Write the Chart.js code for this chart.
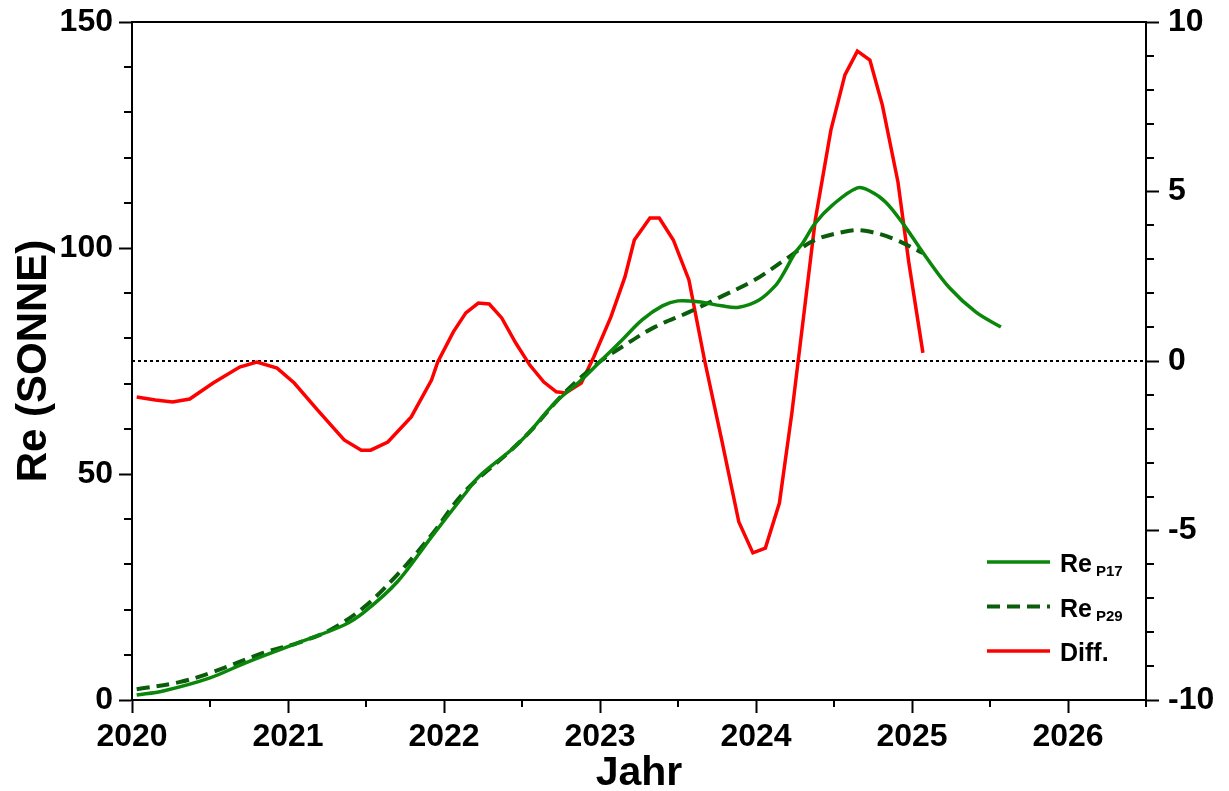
<!DOCTYPE html>
<html>
<head>
<meta charset="utf-8">
<title>Re (SONNE)</title>
<script src="https://cdn.jsdelivr.net/npm/chart.js@4.4.1/dist/chart.umd.min.js"></script>
<style>
  html, body { margin: 0; padding: 0; background: #fff; }
  #wrap { width: 1229px; height: 791px; position: relative; }
</style>
</head>
<body>
<div id="wrap"><canvas id="reChart"></canvas></div>
<script>
/* Re (SONNE) – Re_P17, Re_P29 and their difference */

// Re_P17 (left axis)
const p17Years = [2020.03, 2020.20, 2020.50, 2020.74, 2021.06, 2021.36, 2021.49, 2021.70, 2021.92, 2022.13,
  2022.22, 2022.43, 2022.54, 2022.71, 2022.88, 2023.01, 2023.14, 2023.27, 2023.40, 2023.50,
  2023.63, 2023.78, 2023.89, 2024.02, 2024.12, 2024.17, 2024.25, 2024.30, 2024.38, 2024.49,
  2024.65, 2024.73, 2024.83, 2024.94, 2025.09, 2025.24, 2025.41, 2025.57];
const p17Values = [1.1, 2.0, 4.9, 8.4, 12.6, 16.6, 19.5, 26.1, 36.1, 45.4,
  49.3, 55.3, 59.0, 65.7, 70.8, 75.2, 79.6, 84.1, 87.2, 88.3,
  88.1, 87.2, 86.9, 88.5, 91.5, 94.0, 98.9, 101.1, 105.5, 109.5,
  113.3, 112.6, 110.2, 105.5, 98.0, 91.2, 85.8, 82.5];

// Re_P29 (left axis)
const p29Years = [2020.03, 2020.31, 2020.52, 2020.84, 2021.06, 2021.27, 2021.49, 2021.70, 2021.92, 2022.13,
  2022.43, 2022.56, 2022.77, 2022.99, 2023.14, 2023.35, 2023.57, 2023.78, 2023.99, 2024.21,
  2024.38, 2024.60, 2024.70, 2024.87, 2025.07];
const p29Values = [2.4, 4.0, 6.2, 10.4, 12.6, 15.5, 20.6, 27.7, 36.5, 46.0,
  55.3, 59.7, 67.9, 74.6, 78.1, 82.5, 85.8, 89.3, 92.9, 98.0,
  101.8, 103.8, 103.8, 102.2, 98.9];

// Diff. (right axis)
const diffYears = [2020.03, 2020.15, 2020.26, 2020.37, 2020.52, 2020.69, 2020.80, 2020.93, 2021.04, 2021.19,
  2021.36, 2021.47, 2021.53, 2021.64, 2021.79, 2021.92, 2021.96, 2022.06, 2022.14, 2022.22,
  2022.29, 2022.37, 2022.46, 2022.55, 2022.64, 2022.72, 2022.78, 2022.88, 2022.96, 2023.07,
  2023.16, 2023.22, 2023.32, 2023.38, 2023.47, 2023.57, 2023.67, 2023.78, 2023.89, 2023.98,
  2024.06, 2024.15, 2024.23, 2024.31, 2024.38, 2024.48, 2024.57, 2024.65, 2024.73, 2024.81,
  2024.91, 2024.98, 2025.07];
const diffValues = [-1.06, -1.15, -1.21, -1.12, -0.65, -0.18, -0.03, -0.21, -0.65, -1.45,
  -2.33, -2.63, -2.63, -2.39, -1.65, -0.56, -0.03, 0.86, 1.42, 1.71,
  1.68, 1.27, 0.53, -0.12, -0.62, -0.91, -0.94, -0.65, 0.12, 1.30,
  2.48, 3.57, 4.22, 4.22, 3.57, 2.39, 0.03, -2.33, -4.75, -5.66,
  -5.52, -4.19, -1.53, 1.50, 4.16, 6.81, 8.44, 9.14, 8.88, 7.55,
  5.28, 2.89, 0.24];

// zero reference line (right axis)
const zeroYears = [2020, 2026.5];
const zeroValues = [0, 0];

// legend text
const legendMain = ['Re', 'Re', 'Diff.'];
const legendSub = ['P17', 'P29', ''];

const FONT = '"Liberation Sans", Arial, sans-serif';
const pts = (xs, ys) => xs.map((x, i) => ({ x: x, y: ys[i] }));

// fixed axis sizes so the plot box sits where the original one does
const fixV = w => s => { s.width = w; s.paddingTop = 0; s.paddingBottom = 0; };

// minor ticks, plot frame top and the legend with subscripts
const decorPlugin = {
  id: 'decor',
  afterDraw(chart) {
    const ctx = chart.ctx;
    const area = chart.chartArea;
    const xs = chart.scales.x, yl = chart.scales.y, yr = chart.scales.y2;
    ctx.save();
    ctx.strokeStyle = '#000';
    ctx.lineWidth = 2;
    ctx.beginPath();
    ctx.moveTo(area.left, area.top);
    ctx.lineTo(area.right, area.top);
    for (let v = 2020.5; v < 2026.6; v += 1) {
      const px = Math.round(xs.getPixelForValue(v));
      ctx.moveTo(px, area.bottom);
      ctx.lineTo(px, area.bottom + 7);
    }
    for (let v = 10; v < 150; v += 10) {
      if (v % 50 === 0) continue;
      const py = Math.round(yl.getPixelForValue(v));
      ctx.moveTo(area.left - 8, py);
      ctx.lineTo(area.left, py);
    }
    for (let v = -9; v < 10; v += 1) {
      if (v % 5 === 0) continue;
      const py = Math.round(yr.getPixelForValue(v));
      ctx.moveTo(area.right, py);
      ctx.lineTo(area.right + 8, py);
    }
    ctx.stroke();

    // legend
    const lx0 = area.right - 159, lx1 = area.right - 96;
    [0, 1, 2].forEach((di, k) => {
      const ds = chart.data.datasets[di];
      const y = area.bottom - 138 + k * 44.5;
      ctx.beginPath();
      ctx.strokeStyle = ds.borderColor;
      ctx.lineWidth = ds.borderWidth;
      ctx.setLineDash(ds.borderDash || []);
      ctx.moveTo(lx0, y);
      ctx.lineTo(lx1, y);
      ctx.stroke();
      ctx.setLineDash([]);
      ctx.fillStyle = '#000';
      ctx.textBaseline = 'alphabetic';
      ctx.font = 'bold 25px ' + FONT;
      ctx.fillText(legendMain[k], lx1 + 10, y + 10);
      if (legendSub[k]) {
        const w = ctx.measureText(legendMain[k]).width;
        ctx.font = 'bold 15px ' + FONT;
        ctx.fillText(legendSub[k], lx1 + 10 + w + 4, y + 14);
      }
    });
    ctx.restore();
  }
};

new Chart(document.getElementById('reChart'), {
  type: 'line',
  data: {
    datasets: [
      {
        label: 'Re P17',
        data: pts(p17Years, p17Values),
        yAxisID: 'y',
        borderColor: '#0a870a',
        borderWidth: 3.5,
        tension: 0.35,
        pointRadius: 0
      },
      {
        label: 'Re P29',
        data: pts(p29Years, p29Values),
        yAxisID: 'y',
        borderColor: '#0b5c0b',
        borderWidth: 4,
        borderDash: [13, 7],
        tension: 0.35,
        pointRadius: 0
      },
      {
        label: 'Diff.',
        data: pts(diffYears, diffValues),
        yAxisID: 'y2',
        borderColor: '#ff0000',
        borderWidth: 3.5,
        tension: 0,
        pointRadius: 0
      },
      {
        label: 'zero',
        data: pts(zeroYears, zeroValues),
        yAxisID: 'y2',
        borderColor: '#000',
        borderWidth: 2,
        borderDash: [3, 3],
        pointRadius: 0
      }
    ]
  },
  options: {
    responsive: true,
    maintainAspectRatio: false,
    animation: false,
    layout: { padding: { top: 22, left: 0, right: 0, bottom: 0 } },
    plugins: { legend: { display: false }, tooltip: { enabled: false } },
    scales: {
      x: {
        type: 'linear',
        min: 2020,
        max: 2026.5,
        afterFit: s => { s.height = 91; },
        afterBuildTicks: s => { s.ticks = [2020, 2021, 2022, 2023, 2024, 2025, 2026].map(v => ({ value: v })); },
        ticks: { color: '#000', padding: 5, maxRotation: 0, font: { family: FONT, size: 32, weight: 'bold' }, callback: v => String(v) },
        grid: { drawOnChartArea: false, tickLength: 13, tickWidth: 2, tickColor: '#000' },
        border: { display: true, color: '#000', width: 2 },
        title: { display: true, text: 'Jahr', color: '#000', padding: 0, font: { family: FONT, size: 41, weight: 'bold', lineHeight: 0.85 } }
      },
      y: {
        position: 'left',
        min: 0,
        max: 150,
        afterFit: fixV(132),
        ticks: { stepSize: 50, color: '#000', padding: 6, font: { family: FONT, size: 32, weight: 'bold' } },
        grid: { drawOnChartArea: false, tickLength: 13, tickWidth: 2, tickColor: '#000' },
        border: { display: true, color: '#000', width: 2 },
        title: { display: true, text: 'Re (SONNE)', color: '#000', padding: 13, font: { family: FONT, size: 42, weight: 'bold', lineHeight: 1 } }
      },
      y2: {
        position: 'right',
        min: -10,
        max: 10,
        afterFit: fixV(83),
        ticks: { stepSize: 5, color: '#000', padding: 9, font: { family: FONT, size: 32, weight: 'bold' } },
        grid: { drawOnChartArea: false, tickLength: 13, tickWidth: 2, tickColor: '#000' },
        border: { display: true, color: '#000', width: 2 }
      }
    }
  },
  plugins: [decorPlugin]
});
</script>
</body>
</html>
